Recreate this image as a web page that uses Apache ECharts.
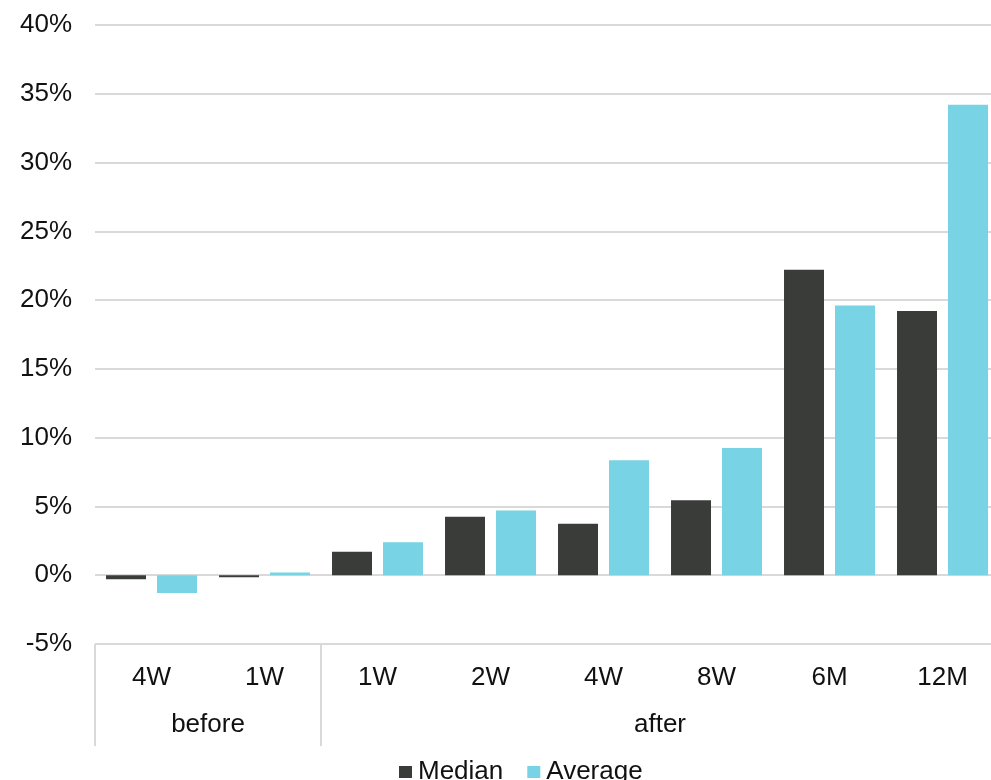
<!DOCTYPE html>
<html>
<head>
<meta charset="utf-8">
<style>
  html, body { margin: 0; padding: 0; background: #fff; }
  #chart { width: 991px; height: 780px; }
</style>
<script src="https://cdn.jsdelivr.net/npm/echarts@6/dist/echarts.min.js"></script>
</head>
<body>
<div id="chart"></div>
<script>
// Periods around the event, in display order
const periods = ['4W', '1W', '1W', '2W', '4W', '8W', '6M', '12M'];
// Period groups and how many periods each one spans
const groupNames = ['before', 'after'];
const groupSizes = [2, 6];
// Returns (%) per period
const medianValues = [-0.3, -0.15, 1.7, 4.25, 3.75, 5.45, 22.2, 19.2];
const averageValues = [-1.3, 0.2, 2.4, 4.7, 8.35, 9.25, 19.6, 34.2];
const seriesNames = ['Median', 'Average'];
// Y-axis range
const yMin = -5, yMax = 40, yStep = 5;

// Group boundaries (left edges) and group centres in category units
const groupStarts = [];
const groupCenters = [];
let acc = 0;
groupSizes.forEach(function (n) {
  groupStarts.push(acc);
  groupCenters.push(acc + n / 2);
  acc += n;
});

const FONT = '"Liberation Sans", Arial, sans-serif';
const FS = 26;
const TEXT = '#111';
const GRID_LINE = '#D9D9D9';

const chart = echarts.init(document.getElementById('chart'), null, { renderer: 'canvas' });

chart.setOption({
  animation: false,
  backgroundColor: '#fff',
  textStyle: { fontFamily: FONT },
  // plot area runs slightly past the right edge of the canvas
  grid: {
    left: 95, width: 904, top: 25, bottom: 136,
    containLabel: false,
    outerBoundsMode: 'none'
  },
  legend: {
    data: seriesNames,
    left: 394,
    top: 754,
    icon: 'rect',
    itemWidth: 13,
    itemHeight: 12,
    itemGap: 24,
    textStyle: { fontSize: FS, color: TEXT, fontFamily: FONT, padding: [0, 0, 0, 1] }
  },
  xAxis: [
    {
      type: 'category',
      data: periods,
      position: 'bottom',
      axisLine: { show: false, onZero: false },
      axisTick: { show: false },
      axisLabel: { margin: 21, fontSize: FS, color: TEXT, fontFamily: FONT },
      splitLine: { show: false }
    },
    {
      type: 'value',
      position: 'bottom',
      min: 0,
      max: periods.length,
      axisLine: { show: false, onZero: false },
      splitLine: { show: false },
      axisTick: {
        show: true,
        customValues: groupStarts,
        length: 102,
        lineStyle: { color: GRID_LINE, width: 2 }
      },
      axisLabel: {
        show: true,
        customValues: groupCenters,
        margin: 68,
        fontSize: FS,
        color: TEXT,
        fontFamily: FONT,
        formatter: function (v) {
          const i = groupCenters.indexOf(v);
          return i >= 0 ? groupNames[i] : '';
        }
      }
    }
  ],
  yAxis: {
    type: 'value',
    min: yMin,
    max: yMax,
    interval: yStep,
    axisLine: { show: false },
    axisTick: { show: false },
    axisLabel: {
      formatter: '{value}%',
      margin: 23,
      fontSize: FS,
      color: TEXT,
      fontFamily: FONT,
      padding: [6, 0, 0, 0]
    },
    splitLine: { show: true, lineStyle: { color: GRID_LINE, width: 2 } }
  },
  series: [
    {
      name: seriesNames[0],
      type: 'bar',
      xAxisIndex: 0,
      data: medianValues,
      barGap: '27.5%',
      barCategoryGap: '19.5%',
      itemStyle: { color: '#3A3C39' }
    },
    {
      name: seriesNames[1],
      type: 'bar',
      xAxisIndex: 0,
      data: averageValues,
      barGap: '27.5%',
      barCategoryGap: '19.5%',
      itemStyle: { color: '#78D3E5' }
    }
  ]
});
</script>
</body>
</html>
